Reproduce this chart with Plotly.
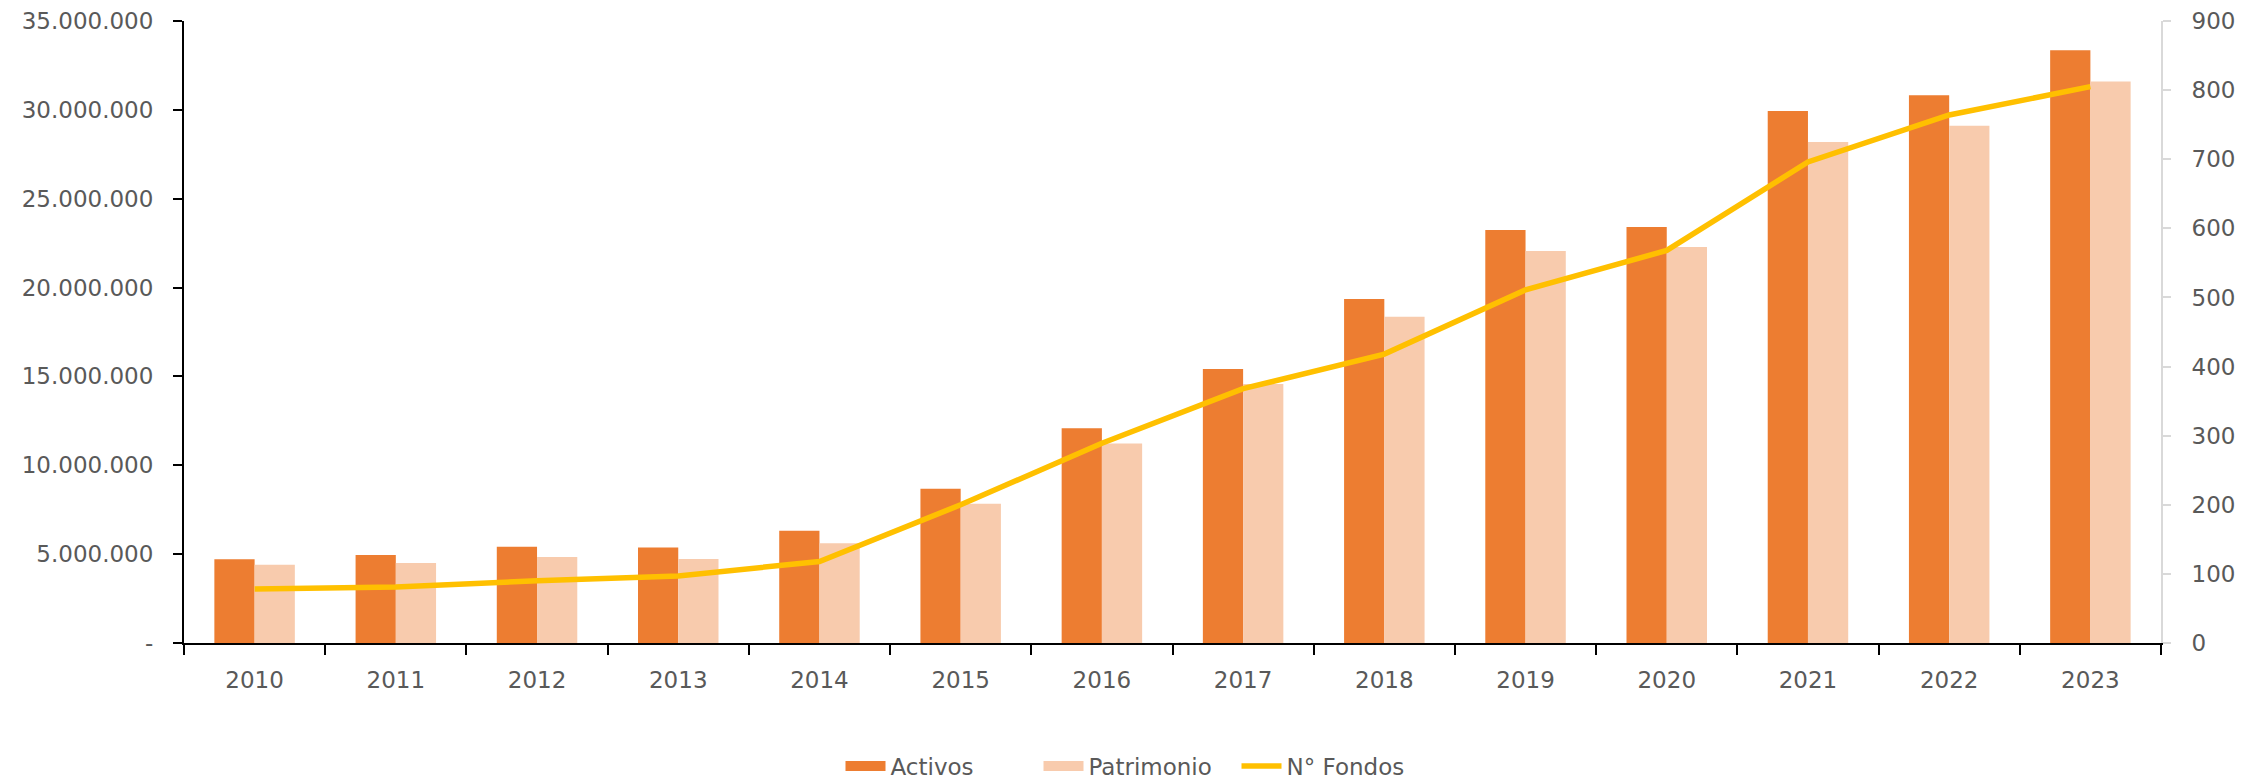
import plotly.graph_objects as go

years = ["2010", "2011", "2012", "2013", "2014", "2015", "2016",
         "2017", "2018", "2019", "2020", "2021", "2022", "2023"]
activos = [4.71e6, 4.95e6, 5.42e6, 5.38e6, 6.32e6, 8.68e6, 12.08e6,
           15.42e6, 19.36e6, 23.24e6, 23.41e6, 29.94e6, 30.82e6, 33.35e6]
patrimonio = [4.41e6, 4.50e6, 4.84e6, 4.73e6, 5.61e6, 7.84e6, 11.22e6,
              14.58e6, 18.36e6, 22.06e6, 22.28e6, 28.19e6, 29.11e6, 31.59e6]
n_fondos = [78, 81, 90, 97, 118, 200, 289, 368, 418, 511, 568, 696, 764, 805]

left_ticks = [0, 5e6, 10e6, 15e6, 20e6, 25e6, 30e6, 35e6]
left_text = ["-" if v == 0 else f"{int(v):,}".replace(",", ".") for v in left_ticks]

FONT = "DejaVu Sans"
GREY = "#595959"
C_ACT = "#ED7D31"
C_PAT = "#F8CBAD"
C_FON = "#FFC000"

fig = go.Figure()
fig.add_trace(go.Bar(x=years, y=activos, name="Activos", marker_color=C_ACT,
                     marker_line_width=0, legendgroup="a", showlegend=False))
fig.add_trace(go.Bar(x=years, y=patrimonio, name="Patrimonio", marker_color=C_PAT,
                     marker_line_width=0, legendgroup="p", showlegend=False))
# legend-only entries giving wide rectangular swatches like the original
fig.add_trace(go.Scatter(x=[None], y=[None], name="Activos", mode="lines",
                         line=dict(color=C_ACT, width=17), legendgroup="a"))
fig.add_trace(go.Scatter(x=[None], y=[None], name="Patrimonio", mode="lines",
                         line=dict(color=C_PAT, width=17), legendgroup="p"))
fig.add_trace(go.Scatter(x=years, y=n_fondos, name="N° Fondos", mode="lines",
                         line=dict(color=C_FON, width=5.5), yaxis="y2"))

fig.update_layout(
    width=2259, height=780,
    margin=dict(l=176, r=106, t=13, b=145, autoexpand=False),
    paper_bgcolor="white", plot_bgcolor="white",
    barmode="group", bargap=0.43, bargroupgap=0,
    font=dict(family=FONT, size=23, color=GREY),
    xaxis=dict(type="category", showline=True, linecolor="black", linewidth=2,
               ticks="outside", tickson="boundaries", ticklen=10, tickcolor="black",
               tickwidth=2, showgrid=False, ticklabelstandoff=15, automargin=False,
               tickfont=dict(family=FONT, size=23, color=GREY)),
    yaxis=dict(range=[0, 35e6], tickvals=left_ticks, ticktext=left_text,
               showline=True, linecolor="black", linewidth=2, ticks="outside",
               ticklen=9, tickcolor="black", tickwidth=2, showgrid=False,
               zeroline=False, ticklabelstandoff=15, automargin=False,
               tickfont=dict(family=FONT, size=23, color=GREY)),
    yaxis2=dict(range=[0, 900], dtick=100, overlaying="y", side="right",
                showline=True, linecolor="#D9D9D9", linewidth=2, ticks="outside",
                ticklen=8, tickcolor="#D9D9D9", tickwidth=2, showgrid=False,
                zeroline=False, ticklabelstandoff=16, automargin=False,
                tickfont=dict(family=FONT, size=23, color=GREY)),
    legend=dict(orientation="h", xref="container", yref="container",
                x=0.5, xanchor="center", y=0.028, yanchor="middle",
                font=dict(family=FONT, size=23, color=GREY),
                itemwidth=40, entrywidth=143, entrywidthmode="pixels",
                traceorder="normal"),
    showlegend=True,
)

fig.write_html("out.html")
